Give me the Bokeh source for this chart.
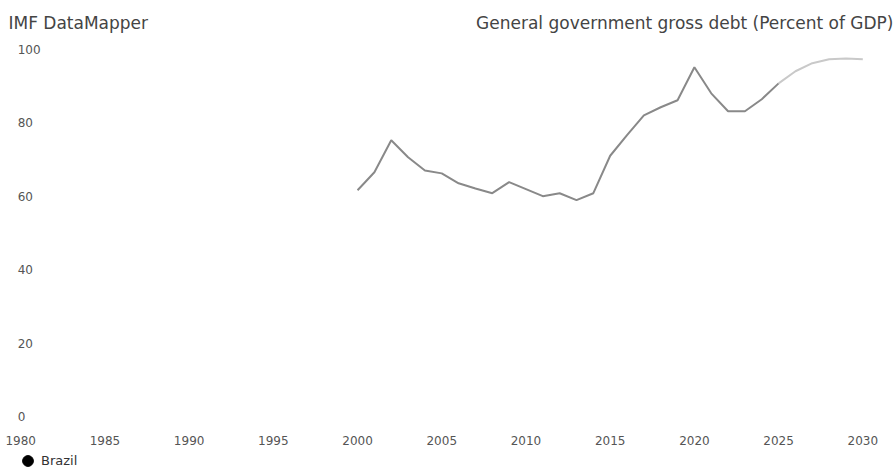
from bokeh.plotting import figure
from bokeh.layouts import column
from bokeh.models import Range1d, Label, Legend, LegendItem, FixedTicker
from bokeh.core.properties import value
from bokeh.embed import file_html
from bokeh.resources import INLINE

# ---- data ----
hist_years = list(range(2000, 2026))
hist_debt = [61.6, 66.5, 75.2, 70.6, 67.0, 66.2, 63.5, 62.1, 60.8, 63.8,
             61.9, 60.0, 60.8, 58.9, 60.8, 71.0, 76.6, 82.0, 84.2, 86.1,
             95.1, 88.0, 83.1, 83.1, 86.4, 90.7]
proj_years = [2025, 2026, 2027, 2028, 2029, 2030]
proj_debt = [90.7, 94.0, 96.2, 97.3, 97.5, 97.3]
x_ticks = [1980, 1985, 1990, 1995, 2000, 2005, 2010, 2015, 2020, 2025, 2030]
y_ticks = [0, 20, 40, 60, 80, 100]
y_tick_labels = ["0", "20", "40", "60", "80", "100"]
country = "Brazil"
title_left = "IMF DataMapper"
title_right = "General government gross debt (Percent of GDP)"

FONT = "DejaVu Sans"

p = figure(width=896, height=452, output_backend="svg", toolbar_location=None,
           x_range=Range1d(1978.8, 2032.0), y_range=Range1d(-5.17, 113.27),
           y_axis_location=None, frame_width=896, frame_height=435,
           min_border_left=0, min_border_right=0, min_border_top=0,
           min_border_bottom=17)
p.outline_line_color = None
p.xgrid.visible = False
p.ygrid.visible = False
p.background_fill_color = "white"
p.border_fill_color = "white"

ax = p.xaxis[0]
ax.ticker = FixedTicker(ticks=x_ticks)
ax.axis_line_color = None
ax.major_tick_line_color = None
ax.minor_tick_line_color = None
ax.major_tick_out = 0
ax.major_tick_in = 0
ax.major_label_standoff = 0
ax.major_label_text_font = FONT
ax.major_label_text_font_size = "12px"
ax.major_label_text_color = "#555555"

# y tick labels inside plot
p.text(x=[1980] * len(y_ticks), y=y_ticks, text=y_tick_labels, x_offset=-3,
       text_align="left", text_baseline="middle", text_font=value(FONT),
       text_font_size="12px", text_color="#555555")

p.line(hist_years, hist_debt, line_color="#898989", line_width=2)
p.line(proj_years, proj_debt, line_color="#c9c9c9", line_width=2)

p.add_layout(Label(x=8, y=413, x_units="screen", y_units="screen",
                   text=title_left, text_align="left", text_baseline="middle",
                   text_font=FONT, text_font_size="17px", text_color="#444444"))
p.add_layout(Label(x=893, y=413, x_units="screen", y_units="screen",
                   text=title_right, text_align="right", text_baseline="middle",
                   text_font=FONT, text_font_size="17px", text_color="#444444"))

# legend strip
lg = figure(width=896, height=15, output_backend="svg", toolbar_location=None,
            x_range=p.x_range, y_range=Range1d(0, 1),
            x_axis_location=None, y_axis_location=None,
            min_border=0, frame_width=896, frame_height=15)
lg.outline_line_color = None
lg.xgrid.visible = False
lg.ygrid.visible = False
# series marker (its points lie outside this strip's range; only the legend shows it)
dot = lg.scatter(x=hist_years, y=hist_debt, size=11, color="black")
leg = Legend(items=[LegendItem(label=country, renderers=[dot])],
             location=(14, -7), orientation="horizontal",
             glyph_width=27, glyph_height=27, label_standoff=-5,
             padding=0, margin=0, spacing=0,
             border_line_color=None, background_fill_alpha=0,
             label_text_font=FONT, label_text_font_size="13px",
             label_text_color="#333333")
lg.add_layout(leg, "center")

layout = column(p, lg, spacing=0)
open("out.html", "w").write(file_html(layout, INLINE))
